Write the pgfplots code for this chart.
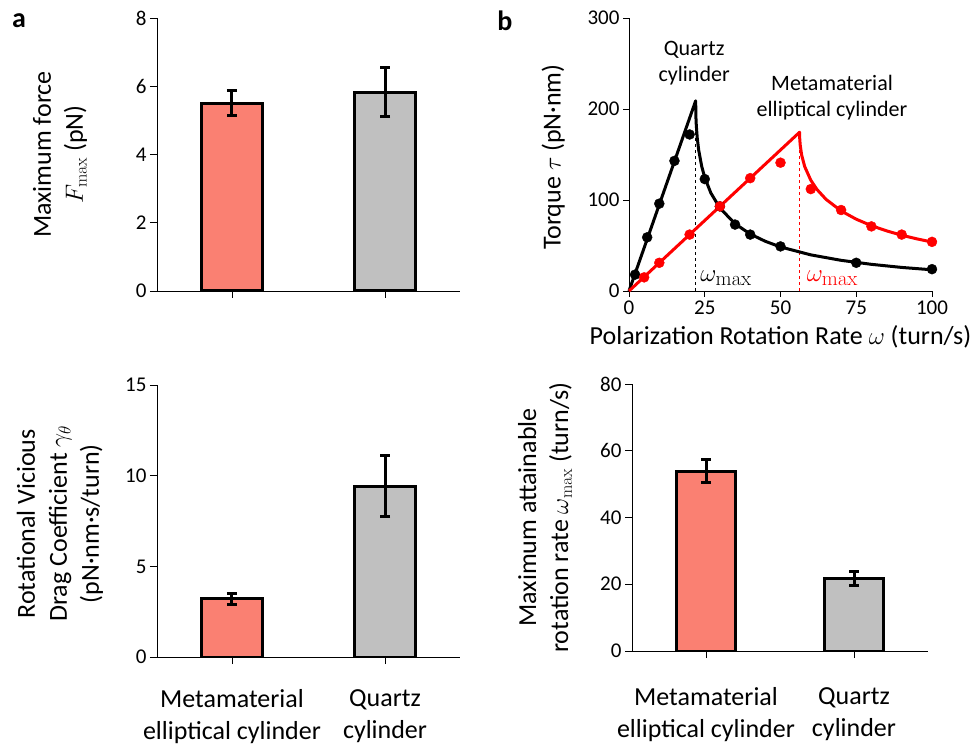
\documentclass[border=0pt]{standalone}
\usepackage{pgfplots}
\pgfplotsset{compat=1.18}
\usepackage[no-math]{fontspec}
\setmainfont{Carlito}
\definecolor{salmonbar}{RGB}{250,128,114}
\definecolor{graybar}{RGB}{192,192,192}
\definecolor{myred}{RGB}{255,0,0}
\newcommand{\tickfont}{\fontsize{21}{24}\selectfont}
\newcommand{\labfont}{\fontsize{26}{32}\selectfont}
\newcommand{\annfont}{\fontsize{22}{26}\selectfont}
\pgfplotsset{
  every error bar/.append style={line width=3pt, black},
  base/.style={
    scale only axis,
    anchor=south west,
    axis lines*=left,
    axis line style={black, line width=0.8pt},
    tick style={black, line width=0.8pt},
    tick align=outside,
    major tick length=7pt,
    tick label style={font=\tickfont},
    /pgf/number format/assume math mode=true,
    label style={font=\labfont, align=center},
  },
  barax/.style={
    base,
    xmin=-0.49, xmax=1.49, ymin=0,
    xtick={0,1},
    bar width=0.4,
  },
  barred/.style={ybar, bar shift=0pt, fill=salmonbar, draw=black, line width=3pt, mark=none},
  bargray/.style={ybar, bar shift=0pt, fill=graybar, draw=black, line width=3pt, mark=none},
}
\begin{document}
\begin{tikzpicture}
\path[use as bounding box] (0pt,0pt) rectangle (980pt,748pt);
\node[font=\fontsize{28}{30}\selectfont\bfseries] at (19pt,727pt) {a};
\node[font=\fontsize{28}{30}\selectfont\bfseries] at (505pt,727pt) {b};

% ---- top left
\begin{axis}[barax, at={(157pt,457pt)}, width=303pt, height=273pt,
  ymax=8, ytick={0,2,4,6,8}, xticklabels={},
  ylabel={Maximum force\\$F_{\max}$ (pN)},
  ylabel style={at={(axis description cs:-0.32,0.5)}, anchor=center}]
\addplot[barred, error bars/.cd, y dir=both, y explicit,
  error bar style={line width=3pt, black},
  error mark options={rotate=90, mark size=5pt, line width=3pt, black}]
  coordinates {(0,5.5) +- (0,0.37)};
\addplot[bargray, error bars/.cd, y dir=both, y explicit,
  error bar style={line width=3pt, black},
  error mark options={rotate=90, mark size=5pt, line width=3pt, black}]
  coordinates {(1,5.82) +- (0,0.72)};
\end{axis}

% ---- bottom left
\begin{axis}[barax, at={(157pt,91pt)}, width=303pt, height=272pt,
  ymax=15, ytick={0,5,10,15},
  xticklabels={{Metamaterial\\elliptical cylinder},{Quartz\\cylinder}},
  xticklabel style={font=\labfont, align=center, yshift=-22pt},
  ylabel={Rotational Vicious\\Drag Coefficient $\gamma_\theta$\\(pN·nm·s/turn)},
  ylabel style={at={(axis description cs:-0.32,0.49)}, anchor=center}]
\addplot[barred, error bars/.cd, y dir=both, y explicit,
  error bar style={line width=3pt, black},
  error mark options={rotate=90, mark size=5pt, line width=3pt, black}]
  coordinates {(0,3.2) +- (0,0.3)};
\addplot[bargray, error bars/.cd, y dir=both, y explicit,
  error bar style={line width=3pt, black},
  error mark options={rotate=90, mark size=5pt, line width=3pt, black}]
  coordinates {(1,9.42) +- (0,1.67)};
\end{axis}

% ---- bottom right
\begin{axis}[barax, at={(632pt,97pt)}, width=296pt, height=267pt,
  xmin=-0.5, xmax=1.5, bar width=0.405,
  ymax=80, ytick={0,20,40,60,80},
  xticklabels={{Metamaterial\\elliptical cylinder},{Quartz\\cylinder}},
  xticklabel style={font=\labfont, align=center, yshift=-26pt},
  ylabel={Maximum attainable\\rotation rate $\omega_{\max}$ (turn/s)},
  ylabel style={at={(axis description cs:-0.294,0.5)}, anchor=center}]
\addplot[barred, error bars/.cd, y dir=both, y explicit,
  error bar style={line width=3pt, black},
  error mark options={rotate=90, mark size=5pt, line width=3pt, black}]
  coordinates {(0,53.9) +- (0,3.4)};
\addplot[bargray, error bars/.cd, y dir=both, y explicit,
  error bar style={line width=3pt, black},
  error mark options={rotate=90, mark size=5pt, line width=3pt, black}]
  coordinates {(1,21.6) +- (0,2.1)};
\end{axis}

% ---- top right
\begin{axis}[base, at={(629pt,457pt)}, width=303pt, height=273pt,
  xmin=0, xmax=100, ymin=0, ymax=300,
  xtick={0,25,50,75,100}, ytick={0,100,200,300},
  major tick length=6pt,
  clip=false,
  ylabel={Torque $\tau$ (pN·nm)},
  ylabel style={at={(axis description cs:-0.25,0.49)}, anchor=center},
  xlabel={Polarization Rotation Rate $\omega$ (turn/s)},
  xlabel style={at={(axis description cs:0.5,-0.168)}, anchor=center}]
\addplot[black, dashed, line width=0.9pt] coordinates {(22,0) (22,209)};
\addplot[myred, dashed, line width=0.9pt] coordinates {(56.3,0) (56.3,174.5)};
\addplot[black, line width=3pt, line join=round] coordinates {
(0,0) (22,209) (22.1,190) (22.2,182.7) (22.5,168.9) (23,154.8) (24,136.9)
(25,124.7) (27,107.8) (30,91.2) (35,73.9) (40,62.6) (45,54.6) (50,48.4)
(60,39.7) (70,33.7) (80,29.3) (90,25.9) (100,23.3)};
\addplot[myred, line width=3pt, line join=round] coordinates {
(0,0) (56.3,174.5) (56.35,167.3) (56.5,160.4) (57,149.1) (58,136.6) (60,121.7)
(62,111.7) (65,100.8) (70,88.0) (75,78.9) (80,71.8) (85,66.1) (90,61.3)
(95,57.3) (100,53.8)};
\addplot[only marks, mark=*, mark size=5pt, black] coordinates {
(2,18) (6,59) (10,96) (15,143) (20,172) (25,123) (30,93) (35,73) (40,62)
(50,49) (75,31) (100,24)};
\addplot[only marks, mark=*, mark size=5pt, myred] coordinates {
(5,15) (10,31) (20,62) (30,93) (40,124) (50,141) (60,112) (70,89) (80,71)
(90,62) (100,54)};
\node[font=\annfont, align=center] at (axis cs:21.5,250) {Quartz\\cylinder};
\node[font=\annfont, align=center] at (axis cs:67,213) {Metamaterial\\elliptical cylinder};
\node[font=\fontsize{30}{34}\selectfont, anchor=base west, inner sep=0pt] at (axis cs:23.5,10) {$\omega_{\max}$};
\node[font=\fontsize{30}{34}\selectfont, anchor=base west, inner sep=0pt, text=myred] at (axis cs:58.6,10) {$\omega_{\max}$};
\end{axis}
\end{tikzpicture}
\end{document}
